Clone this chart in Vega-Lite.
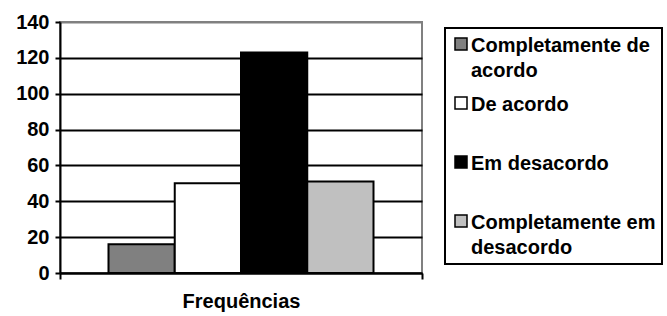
{
  "$schema": "https://vega.github.io/schema/vega-lite/v6.json",
  "width": 362,
  "height": 251,
  "autosize": {"type": "none"},
  "padding": {"left": 60, "top": 22, "right": 245, "bottom": 43},
  "config": {
    "font": "Liberation Sans",
    "view": {"stroke": "#808080", "strokeWidth": 2},
    "style": {"guide-label": {"lineHeight": 25}},
    "legend": {"strokeWidth": 2}
  },
  "data": {
    "values": [
      {"eixo": "Frequências", "resposta": "Completamente de acordo", "valor": 16},
      {"eixo": "Frequências", "resposta": "De acordo", "valor": 50},
      {"eixo": "Frequências", "resposta": "Em desacordo", "valor": 123},
      {"eixo": "Frequências", "resposta": "Completamente em desacordo", "valor": 51}
    ]
  },
  "mark": {"type": "bar", "stroke": "black", "strokeWidth": 2},
  "encoding": {
    "x": {
      "field": "eixo",
      "type": "nominal",
      "scale": {"paddingInner": 0, "paddingOuter": 0},
      "axis": {
        "title": null,
        "labelAngle": 0,
        "labelFont": "Liberation Sans",
        "labelFontWeight": "bold",
        "labelFontSize": 20,
        "labelColor": "black",
        "labelPadding": 12,
        "domainColor": "black",
        "domainWidth": 2,
        "tickBand": "extent",
        "tickColor": "black",
        "tickWidth": 2,
        "tickSize": 6
      }
    },
    "xOffset": {
      "field": "resposta",
      "type": "nominal",
      "sort": ["Completamente de acordo", "De acordo", "Em desacordo", "Completamente em desacordo"],
      "scale": {"paddingInner": 0, "paddingOuter": 0.732}
    },
    "y": {
      "field": "valor",
      "type": "quantitative",
      "scale": {"domain": [0, 140], "nice": false},
      "axis": {
        "title": null,
        "values": [0, 20, 40, 60, 80, 100, 120, 140],
        "grid": true,
        "gridColor": {"condition": {"test": "datum.value === 140", "value": "#808080"}, "value": "black"},
        "gridWidth": 2,
        "domainColor": "black",
        "domainWidth": 2,
        "tickColor": "black",
        "tickWidth": 2,
        "tickSize": 5,
        "labelFont": "Liberation Sans",
        "labelFontWeight": "bold",
        "labelFontSize": 20,
        "labelColor": "black",
        "labelPadding": 6
      }
    },
    "color": {
      "field": "resposta",
      "type": "nominal",
      "sort": ["Completamente de acordo", "De acordo", "Em desacordo", "Completamente em desacordo"],
      "scale": {
        "domain": ["Completamente de acordo", "De acordo", "Em desacordo", "Completamente em desacordo"],
        "range": ["#808080", "#ffffff", "#000000", "#c0c0c0"]
      },
      "legend": {
        "title": null,
        "orient": "none",
        "legendX": 385,
        "legendY": 6,
        "padding": 6,
        "strokeColor": "black",
        "fillColor": "white",
        "symbolType": "square",
        "symbolSize": 144,
        "symbolStrokeColor": "black",
        "symbolStrokeWidth": 1.5,
        "symbolOpacity": 1,
        "labelFont": "Liberation Sans",
        "labelFontWeight": "bold",
        "labelFontSize": 20,
        "labelColor": "black",
        "labelLimit": 0,
        "labelOffset": 0,
        "labelBaseline": "top",
        "rowPadding": 12,
        "labelExpr": "datum.label == 'Completamente de acordo' ? ['Completamente de', 'acordo'] : datum.label == 'Completamente em desacordo' ? ['Completamente em', 'desacordo'] : [datum.label, ' ']",
        "encode": {"labels": {"update": {"dy": {"value": -8}}}}
      }
    }
  }
}
